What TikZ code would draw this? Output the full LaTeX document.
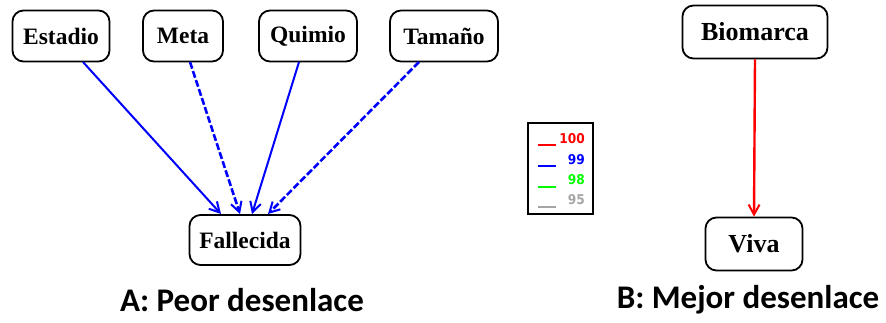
\documentclass[tikz,border=0pt]{standalone}
\usepackage{fontspec}
\setmainfont{Liberation Serif}
\newfontfamily\capfont{Carlito}
\newfontfamily\legfont{DejaVu Sans Condensed}
\usetikzlibrary{arrows.meta}
\definecolor{pblue}{RGB}{0,0,255}
\definecolor{pred}{RGB}{255,0,0}
\definecolor{pgreen}{RGB}{0,255,0}
\definecolor{pgray}{RGB}{165,165,165}
\tikzset{
  var/.style={draw=black, line width=1.8pt, rounded corners=11pt, fill=white,
    minimum height=51pt, inner sep=0pt, font=\fontsize{23.5}{23.5}\selectfont\bfseries},
  varB/.style={var, font=\fontsize{26}{26}\selectfont\bfseries},
  arr/.style={line width=2pt, -{Straight Barb[length=10pt,width=11pt,line width=2pt]}},
  solidarr/.style={arr, pblue},
  dasharr/.style={arr, pblue, line width=2.6pt, dash pattern=on 7pt off 2.5pt},
  redarr/.style={arr, pred, line width=2.4pt},
  legline/.style={line width=2pt},
  legtxt/.style={anchor=east, inner sep=0pt, font=\legfont\fontsize{13.5}{13.5}\selectfont\bfseries},
  captxt/.style={font=\capfont\fontsize{33}{33}\selectfont\bfseries, inner sep=0pt}
}
\begin{document}
\begin{tikzpicture}[x=1pt,y=-1pt]
\useasboundingbox (0,0) rectangle (886,322);
% left panel nodes
\node[var, minimum width=97pt] (est) at (61,36) {Estadio};
\node[var, minimum width=80pt] (met) at (183,36) {Meta};
\node[var, minimum width=98pt] (qui) at (308,36) {Quimio};
\node[var, minimum width=108pt] (tam) at (444,36) {Tamaño};
\node[var, minimum width=111pt, minimum height=50pt] (fal) at (245,240) {Fallecida};
% connectors
\coordinate (e1) at (221,214);
\coordinate (e2) at (240,214);
\coordinate (e3) at (252,214);
\coordinate (e4) at (268,214);
\draw[solidarr] (83,62) -- (e1);
\draw[dasharr] (190,62) -- (e2);
\draw[solidarr] (299,62) -- (e3);
\draw[dasharr] (419,62) -- (e4);
% right panel
\node[varB, minimum width=145pt, minimum height=53pt] (bio) at (755,32) {Biomarca};
\node[varB, minimum width=97pt, minimum height=53pt] (viv) at (754,244) {Viva};
\draw[redarr] (bio.south) -- (viv.north);
% legend
\node[draw=black, line width=1.8pt, minimum width=65pt, minimum height=91pt, inner sep=0pt] (lgd) at (560.5,168.5) {};
\draw[legline, pred] (538,145) -- (556,145);
\draw[legline, pblue] (538,166) -- (556,166);
\draw[legline, pgreen] (538,187) -- (556,187);
\draw[legline, pgray] (538,207) -- (556,207);
\node[legtxt, pred] (l100) at (585,139) {100};
\node[legtxt, pblue] (l99) at (585,160) {99};
\node[legtxt, pgreen] (l98) at (585,180) {98};
\node[legtxt, pgray] (l95) at (585,200) {95};
% captions
\node[captxt] (ca) at (242,300) {A: Peor desenlace};
\node[captxt] (cb) at (748,300) {B: Mejor desenlace};
\end{tikzpicture}
\end{document}
